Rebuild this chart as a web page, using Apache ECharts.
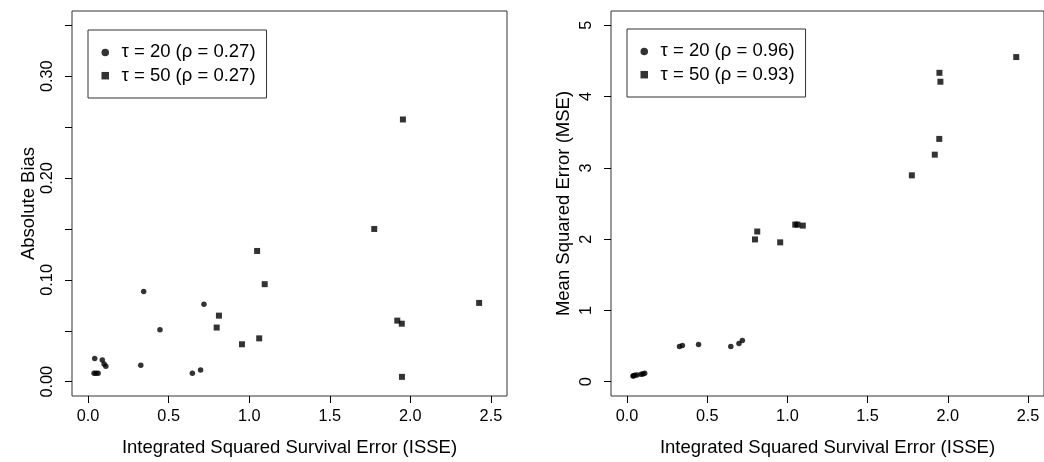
<!DOCTYPE html>
<html>
<head>
<meta charset="utf-8">
<script src="https://cdn.jsdelivr.net/npm/echarts@6/dist/echarts.min.js"></script>
<style>
  html, body { margin: 0; padding: 0; background: #fff; }
  #chart { width: 1044px; height: 462px; }
</style>
</head>
<body>
<div id="chart"></div>
<script>
// tau = 20
const isse20 = [0.037, 0.041, 0.049, 0.062, 0.088, 0.099, 0.110, 0.327, 0.345, 0.446, 0.647, 0.698, 0.719]
const bias20 = [0.0084, 0.0229, 0.0084, 0.0084, 0.0213, 0.0174, 0.0152, 0.0162, 0.0887, 0.0510, 0.0084, 0.0116, 0.0762]
const mse20 = [0.080, 0.085, 0.090, 0.095, 0.105, 0.110, 0.120, 0.494, 0.507, 0.521, 0.494, 0.535, 0.577]

// tau = 50
const isse50 = [0.798, 0.812, 0.955, 1.049, 1.062, 1.096, 1.776, 1.919, 1.947, 1.948, 1.954, 2.427]
const bias50 = [0.0532, 0.0649, 0.0368, 0.1284, 0.0426, 0.0958, 0.150, 0.060, 0.057, 0.0048, 0.2575, 0.0774]
const mse50 = [1.996, 2.107, 1.955, 2.204, 2.204, 2.190, 2.895, 3.185, 3.406, 4.333, 4.208, 4.554]

const legendLeft = ['τ = 20 (ρ = 0.27)', 'τ = 50 (ρ = 0.27)']
const legendRight = ['τ = 20 (ρ = 0.96)', 'τ = 50 (ρ = 0.93)']

const xTicks = [0, 0.5, 1, 1.5, 2, 2.5]
const biasTicks = [0, 0.05, 0.1, 0.15, 0.2, 0.25, 0.3, 0.35]
const biasLabels = [0, 0.1, 0.2, 0.3]
const mseTicks = [0, 1, 2, 3, 4, 5]

const font = 'Liberation Sans, Arial, Helvetica, sans-serif'
const ink = '#000'

const zip = (xs, ys) => xs.map((x, i) => [x, ys[i]])

const xAxisBase = (gridIndex) => ({
  type: 'value',
  gridIndex,
  min: -0.1,
  max: 2.6,
  name: 'Integrated Squared Survival Error (ISSE)',
  nameLocation: 'middle',
  nameGap: 42,
  nameTextStyle: { fontFamily: font, fontSize: 18.5, color: ink },
  axisLine: { show: false, onZero: false },
  axisTick: { show: true, length: 7, customValues: xTicks, lineStyle: { color: ink } },
  axisLabel: {
    customValues: xTicks,
    margin: 13,
    fontFamily: font, fontSize: 16.3, color: ink,
    formatter: v => v.toFixed(1)
  },
  splitLine: { show: false }
})

const legendBase = {
  orient: 'vertical',
  selectedMode: false,
  itemWidth: 7.5,
  itemHeight: 7.5,
  itemGap: 3.3,
  padding: [12.4, 11, 12.3, 13.5],
  borderColor: '#333',
  borderWidth: 1,
  textStyle: { fontFamily: font, fontSize: 18.5, color: ink, lineHeight: 20, padding: [0, 0, 0, 7.5] }
}

const chart = echarts.init(document.getElementById('chart'))

chart.setOption({
  animation: false,
  backgroundColor: '#fff',
  grid: [
    { left: 72, right: 537, top: 11, bottom: 61, show: true, borderColor: '#333', borderWidth: 1 },
    { left: 611, right: -3, top: 11, bottom: 61, show: true, borderColor: '#333', borderWidth: 1 }
  ],
  xAxis: [xAxisBase(0), xAxisBase(1)],
  yAxis: [
    {
      type: 'value',
      gridIndex: 0,
      min: -0.014,
      max: 0.364,
      name: 'Absolute Bias',
      nameLocation: 'middle',
      nameGap: 34,
      nameTextStyle: { fontFamily: font, fontSize: 18.5, color: ink },
      axisLine: { show: false, onZero: false },
      axisTick: { show: true, length: 7, customValues: biasTicks, lineStyle: { color: ink } },
      axisLabel: {
        customValues: biasLabels,
        rotate: 90,
        margin: 16,
        fontFamily: font, fontSize: 16.3, color: ink,
        formatter: v => v.toFixed(2)
      },
      splitLine: { show: false }
    },
    {
      type: 'value',
      gridIndex: 1,
      min: -0.2,
      max: 5.2,
      name: 'Mean Squared Error (MSE)',
      nameLocation: 'middle',
      nameGap: 38,
      nameTextStyle: { fontFamily: font, fontSize: 18.5, color: ink },
      axisLine: { show: false, onZero: false },
      axisTick: { show: true, length: 7, customValues: mseTicks, lineStyle: { color: ink } },
      axisLabel: {
        customValues: mseTicks,
        rotate: 90,
        margin: 16,
        fontFamily: font, fontSize: 16.3, color: ink,
        formatter: v => String(Math.round(v))
      },
      splitLine: { show: false }
    }
  ],
  legend: [
    Object.assign({}, legendBase, {
      left: 88, top: 30,
      data: [{ name: legendLeft[0], icon: 'circle' }, { name: legendLeft[1], icon: 'rect' }]
    }),
    Object.assign({}, legendBase, {
      left: 627, top: 29,
      data: [{ name: legendRight[0], icon: 'circle' }, { name: legendRight[1], icon: 'rect' }]
    })
  ],
  series: [
    {
      name: legendLeft[0], type: 'scatter', xAxisIndex: 0, yAxisIndex: 0,
      symbol: 'circle', symbolSize: 5.5, itemStyle: { color: ink },
      data: zip(isse20, bias20)
    },
    {
      name: legendLeft[1], type: 'scatter', xAxisIndex: 0, yAxisIndex: 0,
      symbol: 'rect', symbolSize: 6, itemStyle: { color: ink },
      data: zip(isse50, bias50)
    },
    {
      name: legendRight[0], type: 'scatter', xAxisIndex: 1, yAxisIndex: 1,
      symbol: 'circle', symbolSize: 5.5, itemStyle: { color: ink },
      data: zip(isse20, mse20)
    },
    {
      name: legendRight[1], type: 'scatter', xAxisIndex: 1, yAxisIndex: 1,
      symbol: 'rect', symbolSize: 6, itemStyle: { color: ink },
      data: zip(isse50, mse50)
    }
  ]
})
</script>
</body>
</html>
